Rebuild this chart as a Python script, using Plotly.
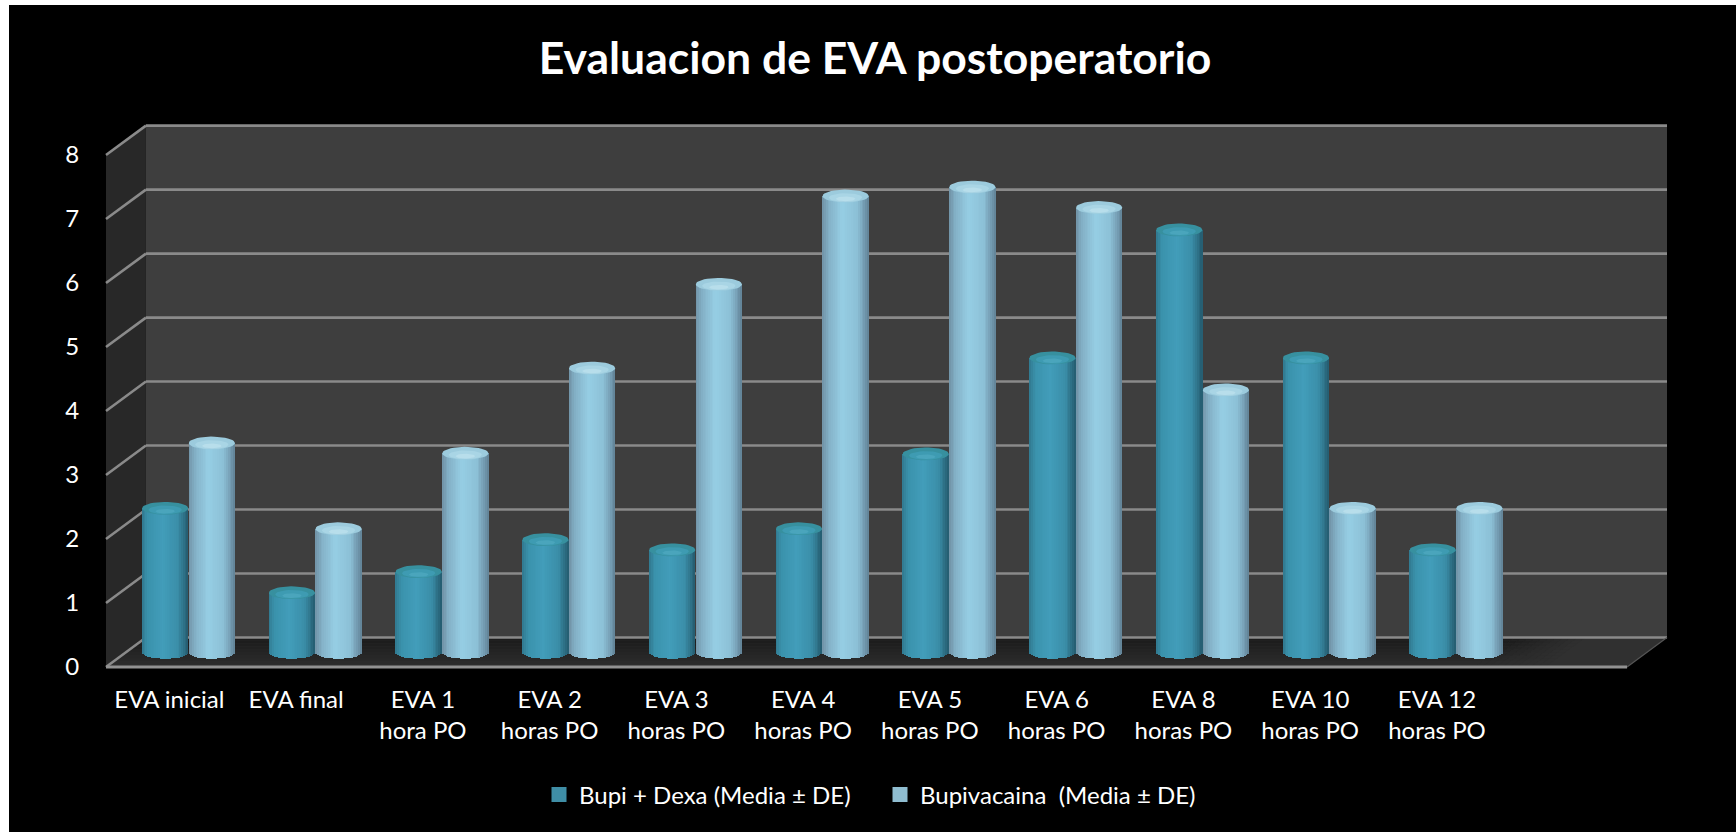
import numpy as np
import plotly.graph_objects as go

# ---- data ----
categories = ["EVA inicial", "EVA final", "EVA 1<br>hora PO", "EVA 2<br>horas PO", "EVA 3<br>horas PO",
              "EVA 4<br>horas PO", "EVA 5<br>horas PO", "EVA 6<br>horas PO", "EVA 8<br>horas PO",
              "EVA 10<br>horas PO", "EVA 12<br>horas PO"]
bupi_dexa = [2.25, 0.93, 1.26, 1.76, 1.6, 1.93, 3.1, 4.6, 6.6, 4.6, 1.6]
bupivacaina = [3.27, 1.93, 3.11, 4.44, 5.75, 7.13, 7.27, 6.95, 4.1, 2.25, 2.25]
y_ticks = [0, 1, 2, 3, 4, 5, 6, 7, 8]
name_a = "Bupi + Dexa (Media ± DE)"
name_b = "Bupivacaina\u00a0 (Media ± DE)"

# ---- page and 3-D frame geometry ----
W, H = 1736, 832
M_L, M_R, M_T, M_B = 104, 66, 122, 160
DX, DY = 0.315, 0.46           # depth of the box, in axis units
X0, X_END = -0.5, 11.5
MID_Y = DY / 2                 # floor line under the cylinders
BAR_W, ELL_B = 0.365, 0.10
OFFS = (-0.033, 0.335)
N_STRIP = 26
x_range = [X0 - 2 / 126.8, X_END + DX + 3 / 126.8]
y_range = [-5 / 64, 8.516]


def shade(t, stops):
    pos = [s[0] for s in stops]
    rgb = [np.interp(t, pos, [s[1][i] for s in stops]) for i in range(3)]
    return "rgb(%d,%d,%d)" % tuple(int(round(v)) for v in rgb)


STOPS_A = [(-1, (48, 120, 142)), (-0.75, (58, 146, 172)), (-0.1, (66, 157, 186)),
           (0.55, (58, 142, 168)), (0.85, (44, 108, 130)), (1, (36, 90, 110))]
STOPS_B = [(-1, (112, 146, 166)), (-0.7, (132, 178, 200)), (-0.15, (150, 206, 228)),
           (0.5, (140, 192, 214)), (0.85, (112, 150, 172)), (1, (96, 128, 148))]
TOPS_A = ("#37909f", "#3e9bb2", "#4aa5bc")
TOPS_B = ("#9ccbdd", "#a9d5e5", "#b8deeb")

fig = go.Figure()
pos = np.arange(len(categories))
edges = np.linspace(-1, 1, N_STRIP + 1)
mids = (edges[:-1] + edges[1:]) / 2
strip = BAR_W / N_STRIP


def ellipse(cx, cy, a, b, n=40):
    th = np.linspace(0, 2 * np.pi, n)
    return cx + a * np.cos(th), cy + b * np.sin(th)


for vals, off, stops, tops, grp in ((bupi_dexa, OFFS[0], STOPS_A, TOPS_A, "a"),
                                    (bupivacaina, OFFS[1], STOPS_B, TOPS_B, "b")):
    v = np.array(vals)
    for t in mids:
        bulge = ELL_B * np.sqrt(max(0.0, 1 - t * t))
        fig.add_trace(go.Bar(x=pos + off + t * BAR_W / 2, y=v + bulge, base=MID_Y - bulge,
                             width=strip * 1.15, marker=dict(color=shade(t, stops), line_width=0),
                             legendgroup=grp, showlegend=False, hoverinfo="skip"))
    layers = ((1.0, 1.0, 0.0, tops[0]), (0.72, 0.68, -0.025, tops[1]), (0.42, 0.36, -0.045, tops[2]))
    for ka, kb, dy, col in layers:
        xs, ys = [], []
        for p, val in zip(pos, v):
            ex, ey = ellipse(p + off, val + MID_Y + dy, BAR_W / 2 * ka, ELL_B * kb)
            xs += list(ex) + [None]
            ys += list(ey) + [None]
        fig.add_trace(go.Scatter(x=xs, y=ys, mode="lines", fill="toself", fillcolor=col,
                                 line=dict(width=0, color=col), showlegend=False,
                                 hoverinfo="skip", legendgroup=grp))

# legend swatches
for nm, col, grp in ((name_a, "#3f8ea6", "a"), (name_b, "#8fbdd0", "b")):
    fig.add_trace(go.Bar(x=[None], y=[None], name=nm, legendgroup=grp,
                         marker=dict(color=col, line=dict(color=col, width=3))))

# ---- box walls, floor and gridlines ----
GRID = "#8a8a8a"
shapes = []


def poly(pts, fill):
    path = "M" + "L".join(f"{x:.4f},{y:.4f}" for x, y in pts) + "Z"
    return dict(type="path", path=path, fillcolor=fill, line_width=0, xref="x", yref="y", layer="below")


def seg(x0, y0, x1, y1, w=2.6, c=GRID):
    return dict(type="line", x0=x0, y0=y0, x1=x1, y1=y1, xref="x", yref="y",
                line=dict(color=c, width=w), layer="below")


top = y_ticks[-1]
shapes.append(poly([(X0 + DX, DY), (X_END + DX, DY), (X_END + DX, top + DY), (X0 + DX, top + DY)], "#3e3e3e"))
shapes.append(poly([(X0, 0), (X0 + DX, DY), (X0 + DX, top + DY), (X0, top)], "#282828"))
shapes.append(poly([(X0, 0), (X_END, 0), (X_END + DX, DY), (X0 + DX, DY)], "#303030"))

# floor shadow: darker towards the wall, fading out past the last cylinders
ROWS, FADE = 10, 10
FLOOR_BASE = np.array([48, 48, 48])
SH_DARK = np.array([26, 26, 26])
SH_LIGHT = np.array([46, 46, 46])
fade_edges = np.linspace(10.3, 10.85, FADE + 1)
for r in range(ROWS):
    y0, y1 = DY * r / ROWS, DY * (r + 1) / ROWS
    k = (r + 0.5) / ROWS
    row_col = SH_LIGHT + (SH_DARK - SH_LIGHT) * k
    sx0, sx1 = y0 / DY * DX, y1 / DY * DX
    col = "rgb(%d,%d,%d)" % tuple(row_col)
    shapes.append(poly([(X0 + sx0, y0), (fade_edges[0] + sx0, y0), (fade_edges[0] + sx1, y1), (X0 + sx1, y1)], col))
    for c in range(FADE):
        f = (c + 0.5) / FADE
        cc = row_col + (FLOOR_BASE - row_col) * f
        col = "rgb(%d,%d,%d)" % tuple(cc)
        shapes.append(poly([(fade_edges[c] + sx0, y0), (fade_edges[c + 1] + 0.004 + sx0, y0),
                            (fade_edges[c + 1] + 0.004 + sx1, y1), (fade_edges[c] + sx1, y1)], col))

for t in y_ticks:
    shapes.append(seg(X0, t, X0 + DX, t + DY))
    shapes.append(seg(X0 + DX, t + DY, X_END + DX, t + DY))
shapes.append(seg(X_END, 0, X_END + DX, DY, 1.2, "#555555"))
shapes.append(seg(X0, 0, X_END, 0, 3, "#929292"))


# white page edge at the left and top of the picture
def px_x(p):
    return (p - M_L) / (W - M_L - M_R)


def px_y(p):
    return 1 - (p - M_T) / (H - M_T - M_B)


shapes.append(dict(type="rect", xref="paper", yref="paper", x0=px_x(0), x1=px_x(9), y0=px_y(0), y1=px_y(H),
                   fillcolor="white", line_width=0, layer="below"))
shapes.append(dict(type="rect", xref="paper", yref="paper", x0=px_x(0), x1=px_x(W), y0=px_y(0), y1=px_y(5),
                   fillcolor="white", line_width=0, layer="below"))

FONT = "Lato, Carlito, sans-serif"
fig.update_layout(
    width=W, height=H, autosize=False,
    margin=dict(l=M_L, r=M_R, t=M_T, b=M_B, pad=0),
    paper_bgcolor="black", plot_bgcolor="rgba(0,0,0,0)",
    barmode="overlay", bargap=0,
    shapes=shapes,
    font=dict(family=FONT, color="white", size=24),
    title=dict(text="<b>Evaluacion de EVA postoperatorio</b>", x=875 / W, xref="container", xanchor="center",
               y=1 - 58 / H, yref="container", yanchor="middle",
               font=dict(size=44.5, family=FONT, color="white")),
    xaxis=dict(range=x_range, tickmode="array", tickvals=list(pos), ticktext=categories,
               showgrid=False, zeroline=False, showline=False, ticks="outside", ticklen=6,
               tickcolor="rgba(0,0,0,0)", tickfont=dict(size=24, color="white", family=FONT), tickangle=0),
    yaxis=dict(range=y_range, tickmode="array", tickvals=y_ticks, showgrid=False, zeroline=False,
               showline=False, ticks="outside", ticklen=19, tickcolor="rgba(0,0,0,0)",
               tickfont=dict(size=24, color="white", family=FONT)),
    legend=dict(orientation="h", xref="container", yref="container", x=880 / W, xanchor="center",
                y=1 - 795 / H, yanchor="middle", bgcolor="rgba(0,0,0,0)", entrywidth=296, entrywidthmode="pixels",
                font=dict(size=24, color="white", family=FONT), itemclick=False, itemdoubleclick=False),
    showlegend=True,
)

fig.write_html("out.html", config=dict(displayModeBar=False),
               post_script="document.body.style.margin='0';document.body.style.overflow='hidden';")
